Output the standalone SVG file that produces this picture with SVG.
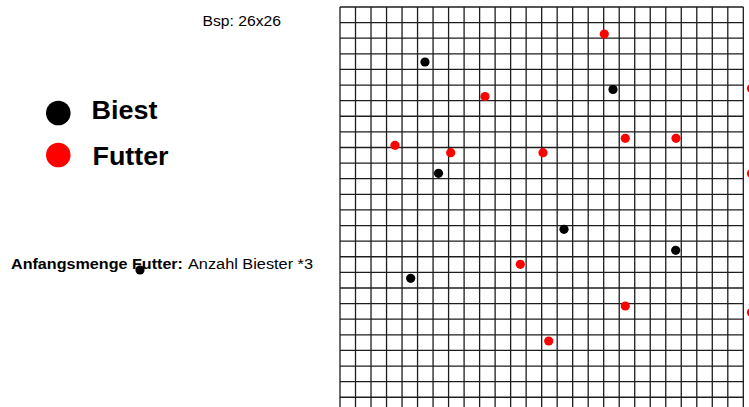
<svg xmlns="http://www.w3.org/2000/svg" width="749" height="407" viewBox="0 0 749 407">
<style>
.grid{fill:none;stroke:#1e1e1e;stroke-width:1.3}
.b{fill:#000}
.r{fill:#ff0000}
.t{font-family:"Liberation Sans",Arial,sans-serif;fill:#000}
.bold{font-weight:bold}
</style>
<rect width="749" height="407" fill="#fff"/>
<g id="grid">
<path class="grid" d="M340 7V407M355.51 7V407M371.02 7V407M386.54 7V407M402.05 7V407M417.56 7V407M433.07 7V407M448.58 7V407M464.1 7V407M479.61 7V407M495.12 7V407M510.63 7V407M526.14 7V407M541.66 7V407M557.17 7V407M572.68 7V407M588.19 7V407M603.7 7V407M619.22 7V407M634.73 7V407M650.24 7V407M665.75 7V407M681.26 7V407M696.78 7V407M712.29 7V407M727.8 7V407M743.31 7V407"/>
<path class="grid" d="M340 7H743.31M340 22.61H743.31M340 38.22H743.31M340 53.83H743.31M340 69.44H743.31M340 85.05H743.31M340 100.66H743.31M340 116.27H743.31M340 131.88H743.31M340 147.49H743.31M340 163.1H743.31M340 178.71H743.31M340 194.32H743.31M340 209.93H743.31M340 225.54H743.31M340 241.15H743.31M340 256.76H743.31M340 272.37H743.31M340 287.98H743.31M340 303.59H743.31M340 319.2H743.31M340 334.81H743.31M340 350.42H743.31M340 366.03H743.31M340 381.64H743.31M340 397.25H743.31"/>
</g>
<g id="beasts">
<circle class="b" cx="425" cy="62" r="4.6"/>
<circle class="b" cx="613" cy="89.5" r="4.6"/>
<circle class="b" cx="438.5" cy="173.3" r="4.6"/>
<circle class="b" cx="564" cy="229.3" r="4.6"/>
<circle class="b" cx="675.7" cy="250.3" r="4.6"/>
<circle class="b" cx="410.7" cy="278.3" r="4.6"/>
</g>
<g id="food">
<circle class="r" cx="604.3" cy="34" r="4.6"/>
<circle class="r" cx="485" cy="96.5" r="4.6"/>
<circle class="r" cx="395" cy="145.3" r="4.6"/>
<circle class="r" cx="450.7" cy="152.7" r="4.6"/>
<circle class="r" cx="543" cy="152.7" r="4.6"/>
<circle class="r" cx="625.3" cy="138.3" r="4.6"/>
<circle class="r" cx="676" cy="138.3" r="4.6"/>
<circle class="r" cx="520.3" cy="264.3" r="4.6"/>
<circle class="r" cx="625.3" cy="306" r="4.6"/>
<circle class="r" cx="548.7" cy="341" r="4.6"/>
<circle class="r" cx="751.5" cy="88.5" r="4.6"/>
<circle class="r" cx="751.5" cy="173.5" r="4.6"/>
<circle class="r" cx="751.5" cy="312.5" r="4.6"/>
</g>
<g id="legend-biest">
<circle class="b" cx="58.3" cy="113" r="12.3"/>
<text class="t bold" x="91.5" y="118.5" font-size="25" textLength="66" lengthAdjust="spacingAndGlyphs">Biest</text>
</g>
<g id="legend-futter">
<circle class="r" cx="58.3" cy="155" r="12.3"/>
<text class="t bold" x="92.5" y="165" font-size="25" textLength="76" lengthAdjust="spacingAndGlyphs">Futter</text>
</g>
<g id="label-size">
<text class="t" x="202.5" y="25.5" font-size="14" textLength="78.5" lengthAdjust="spacingAndGlyphs">Bsp: 26x26</text>
</g>
<g id="label-start">
<text class="t bold" x="11" y="268.5" font-size="14" textLength="172" lengthAdjust="spacingAndGlyphs">Anfangsmenge Futter:</text>
<text class="t" x="188" y="268.5" font-size="14" textLength="125" lengthAdjust="spacingAndGlyphs">Anzahl Biester *3</text>
<circle class="b" cx="140" cy="270" r="4.6"/>
</g>
</svg>
